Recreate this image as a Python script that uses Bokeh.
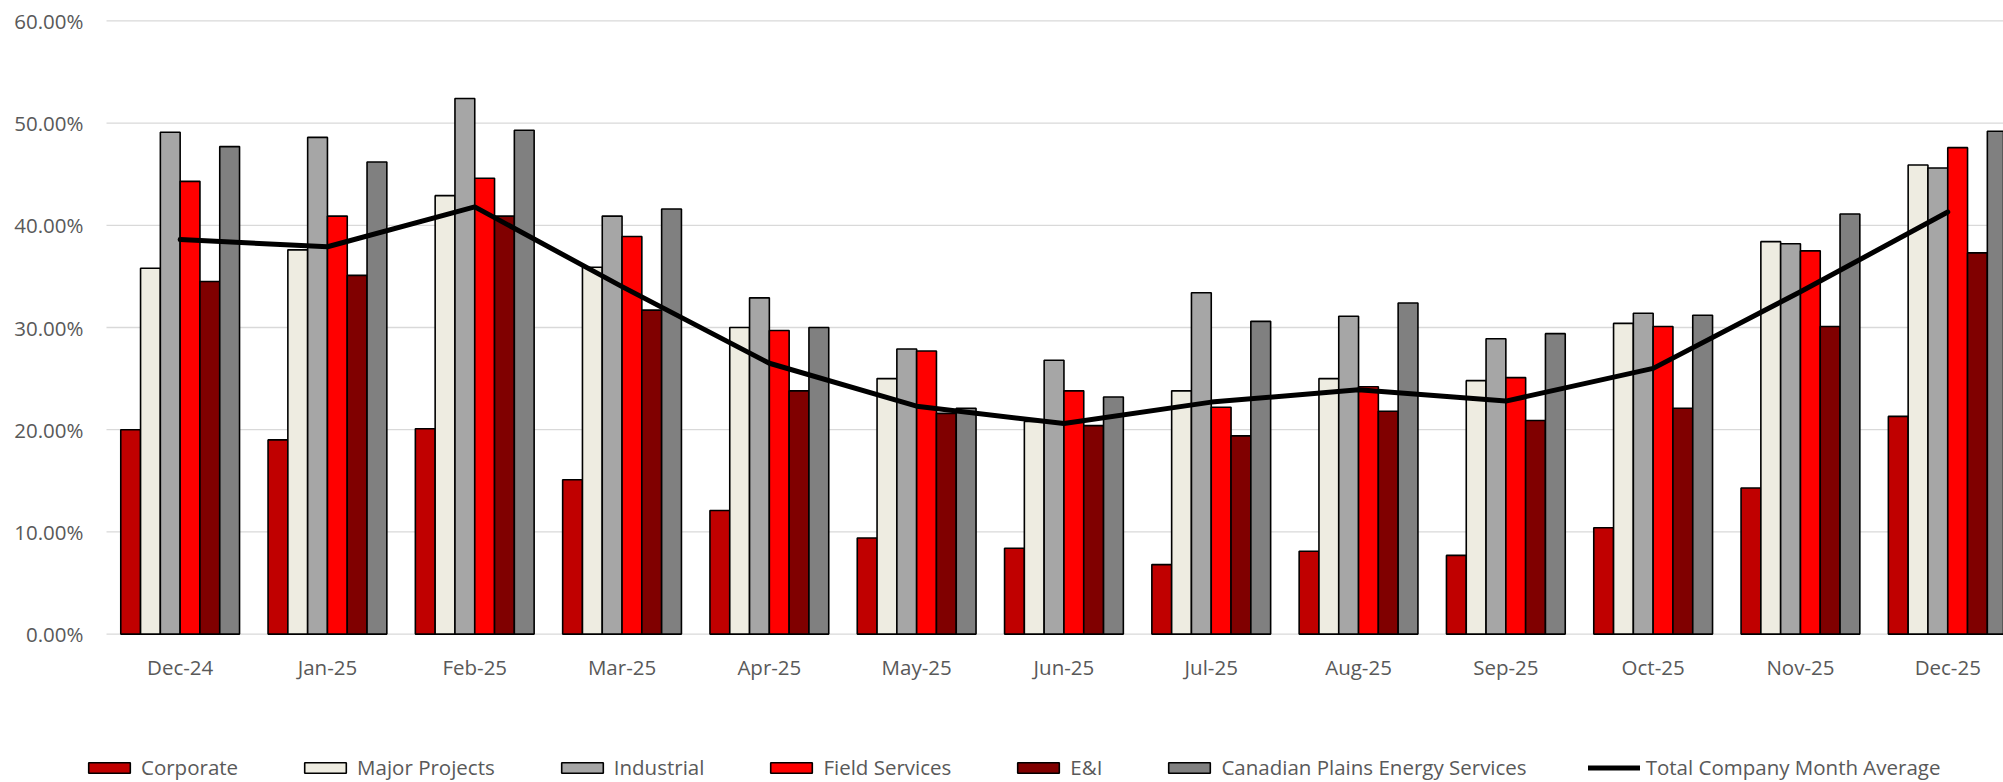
import numpy as np
from bokeh.plotting import figure
from bokeh.core.properties import value
from bokeh.models import ColumnDataSource, Legend, LegendItem, Range1d
from bokeh.embed import file_html
from bokeh.resources import INLINE

# Monthly utilisation by division (fractions)
months = ["Dec-24", "Jan-25", "Feb-25", "Mar-25", "Apr-25", "May-25", "Jun-25",
          "Jul-25", "Aug-25", "Sep-25", "Oct-25", "Nov-25", "Dec-25"]
corporate = [0.200, 0.190, 0.201, 0.151, 0.121, 0.094, 0.084, 0.068, 0.081, 0.077, 0.104, 0.143, 0.213]
major_projects = [0.358, 0.376, 0.429, 0.359, 0.300, 0.250, 0.208, 0.238, 0.250, 0.248, 0.304, 0.384, 0.459]
industrial = [0.491, 0.486, 0.524, 0.409, 0.329, 0.279, 0.268, 0.334, 0.311, 0.289, 0.314, 0.382, 0.456]
field_services = [0.443, 0.409, 0.446, 0.389, 0.297, 0.277, 0.238, 0.222, 0.242, 0.251, 0.301, 0.375, 0.476]
e_and_i = [0.345, 0.351, 0.409, 0.317, 0.238, 0.216, 0.204, 0.194, 0.218, 0.209, 0.221, 0.301, 0.373]
canadian_plains = [0.477, 0.462, 0.493, 0.416, 0.300, 0.221, 0.232, 0.306, 0.324, 0.294, 0.312, 0.411, 0.492]
total_average = [0.386, 0.379, 0.418, 0.340, 0.265, 0.223, 0.206, 0.227, 0.239, 0.228, 0.260, 0.335, 0.413]
y_ticks = [0.0, 0.1, 0.2, 0.3, 0.4, 0.5, 0.6]

series = [
    ("Corporate", corporate, "#C00000"),
    ("Major Projects", major_projects, "#EEECE1"),
    ("Industrial", industrial, "#A6A6A6"),
    ("Field Services", field_services, "#FF0000"),
    ("E&I", e_and_i, "#800000"),
    ("Canadian Plains Energy Services", canadian_plains, "#808080"),
]
line_name = "Total Company Month Average"

FONT = "Open Sans"
TEXT_COLOR = "#595959"
FONT_SIZE = "20.5px"
BAR_OUTLINE = 1.6
LINE_W = 5

W, H = 2003, 782
PLOT_LEFT = 106          # pixel where the first month slot begins
PLOT_BOTTOM = 148.4      # pixels from the bottom edge to the 0% line
SLOT_PX = 147.3          # width of one month slot
PX_PER_UNIT = 1022.0     # vertical pixels per 100%

centers = np.arange(len(months)) + 0.5
bar_w = 0.1344

# The frame covers the whole canvas so that tick labels and the legend
# can sit outside the bar area without being clipped.
x_range = Range1d(-PLOT_LEFT / SLOT_PX, (W - PLOT_LEFT) / SLOT_PX)
y_range = Range1d(-PLOT_BOTTOM / PX_PER_UNIT, (H - PLOT_BOTTOM) / PX_PER_UNIT)

p = figure(width=W, height=H, output_backend="svg", toolbar_location=None,
           x_range=x_range, y_range=y_range, x_axis_type=None, y_axis_type=None,
           min_border=0, min_border_left=0, min_border_right=0,
           min_border_top=0, min_border_bottom=0)
p.outline_line_color = None
p.xgrid.visible = False
p.ygrid.visible = False

# horizontal gridlines at each tick
grid_src = ColumnDataSource(dict(y=y_ticks, x0=[0] * len(y_ticks),
                                 x1=[len(months)] * len(y_ticks)))
p.segment(x0="x0", x1="x1", y0="y", y1="y", source=grid_src,
          line_color="#D9D9D9", line_width=1.3)

# y tick labels
ylab_src = ColumnDataSource(dict(x=[0] * len(y_ticks), y=y_ticks,
                                 text=[f"{t * 100:.2f}%" for t in y_ticks]))
p.text(x="x", y="y", text="text", source=ylab_src, x_offset=-23,
       text_align="right", text_baseline="middle",
       text_font=value(FONT), text_font_size=value(FONT_SIZE),
       text_color=TEXT_COLOR)

# month labels
xlab_src = ColumnDataSource(dict(x=centers, y=[0] * len(months), text=months))
p.text(x="x", y="y", text="text", source=xlab_src, y_offset=33,
       text_align="center", text_baseline="middle",
       text_font=value(FONT), text_font_size=value(FONT_SIZE),
       text_color=TEXT_COLOR)

# grouped bars
items = []
n = len(series)
for k, (name, vals, color) in enumerate(series):
    src = ColumnDataSource(dict(x=centers + (k - (n - 1) / 2) * bar_w, top=vals))
    r = p.vbar(x="x", top="top", bottom=0, width=bar_w, source=src,
               fill_color=color, line_color="black", line_width=BAR_OUTLINE)
    items.append(LegendItem(label=name, renderers=[r]))

# company-wide monthly average
line_src = ColumnDataSource(dict(x=centers, y=total_average))
lr = p.line(x="x", y="y", source=line_src, line_color="black", line_width=LINE_W,
            line_join="round", line_cap="round")
items.append(LegendItem(label=line_name, renderers=[lr]))

legend = Legend(items=items, orientation="horizontal", location=(83, 1),
                glyph_width=52, glyph_height=13, label_standoff=6, spacing=61,
                padding=0, margin=0, border_line_color=None,
                background_fill_alpha=0,
                label_text_font=FONT, label_text_font_size=FONT_SIZE,
                label_text_color=TEXT_COLOR)
p.add_layout(legend)

open("out.html", "w").write(file_html(p, INLINE))
